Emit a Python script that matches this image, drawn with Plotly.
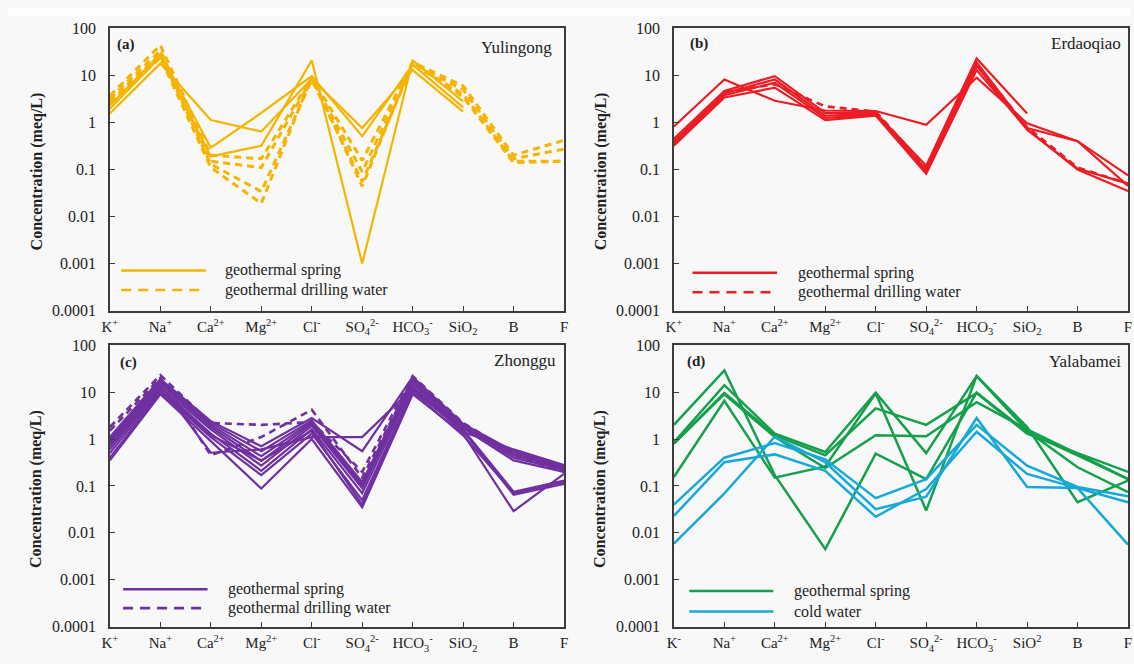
import plotly.graph_objects as go

# Major ions / components on the x axis
ions = ["K+", "Na+", "Ca2+", "Mg2+", "Cl-", "SO42-", "HCO3-", "SiO2", "B", "F"]
ion_labels = ["K<sup>+</sup>", "Na<sup>+</sup>", "Ca<sup>2+</sup>", "Mg<sup>2+</sup>", "Cl<sup>-</sup>",
              "SO<sub>4</sub><sup>2-</sup>", "HCO<sub>3</sub><sup>-</sup>", "SiO<sub>2</sub>", "B", "F"]
ion_labels_d = ["K<sup>-</sup>", "Na<sup>+</sup>", "Ca<sup>2+</sup>", "Mg<sup>2+</sup>", "Cl<sup>-</sup>",
                "SO<sub>4</sub><sup>2-</sup>", "HCO<sub>3</sub><sup>-</sup>", "SiO<sup>2</sup>", "B", "F"]

y_ticks = [0.0001, 0.001, 0.01, 0.1, 1, 10, 100]
y_ticktext = ["0.0001", "0.001", "0.01", "0.1", "1", "10", "100"]

# (a) Yulingong, meq/L
yulingong_spring = [
    [1.55, 18, 1.13, 0.64, 8.5, 0.76, 13, 1.7, None, None],
    [2.3, 29, 0.29, 1.6, 9.7, 0.51, 17, 2.1, None, None],
    [1.95, 25, 0.19, 0.32, 21, 0.001, 21, 2.8, None, None],
]
yulingong_drilling = [
    [3.7, 44, 0.2, 0.17, 9.0, 0.155, 19, 6.0, 0.2, 0.42],
    [3.2, 34, 0.15, 0.11, 8.5, 0.089, 18, 5.0, 0.17, 0.27],
    [2.8, 28, 0.13, 0.034, 8.0, 0.055, 17, 4.0, 0.15, 0.15],
    [2.5, 24, 0.11, 0.019, 9.5, 0.044, 20, 3.5, 0.14, 0.15],
]

# (b) Erdaoqiao
erdaoqiao_spring = [
    [0.82, 8.2, 2.9, 1.8, 1.75, 0.89, 9.0, 0.96, 0.4, 0.075],
    [0.45, 4.7, 9.7, 1.6, 1.6, 0.12, 23, 1.55, None, None],
    [0.40, 4.2, 8.2, 1.4, 1.5, 0.10, 19, 0.76, 0.4, 0.045],
    [0.35, 3.8, 7.0, 1.25, 1.45, 0.09, 16, 0.70, 0.105, 0.05],
    [0.32, 3.4, 5.5, 1.12, 1.4, 0.081, 13, 0.72, 0.10, 0.035],
]
erdaoqiao_drilling = [
    [0.38, 4.5, 6.5, 2.2, 1.7, 0.11, 17, 0.8, 0.11, 0.05],
]

# (c) Zhonggu
zhonggu_spring = [
    [0.35, 9, 0.9, 0.088, 1.0, 0.035, 9, 1.3, 0.029, 0.18],
    [0.4, 10, 1.1, 0.17, 1.3, 0.05, 11, 1.5, 0.065, 0.11],
    [0.6, 12, 1.3, 0.21, 1.6, 0.07, 13, 1.6, 0.075, 0.13],
    [0.7, 13, 1.6, 0.27, 1.9, 0.09, 15, 1.7, 0.35, 0.2],
    [0.8, 15, 1.8, 0.34, 2.1, 0.1, 17, 1.8, 0.4, 0.22],
    [0.9, 16, 2.0, 0.43, 2.3, 0.11, 18, 1.9, 0.45, 0.24],
    [1.0, 18, 2.2, 0.55, 2.5, 0.12, 20, 2.0, 0.5, 0.25],
    [1.1, 19, 2.4, 0.7, 2.8, 0.55, 21, 2.1, 0.55, 0.27],
    [0.8, 14, 0.51, 0.6, 1.1, 1.1, 12, 1.4, 0.6, 0.28],
    [0.5, 11, 1.2, 0.35, 1.5, 0.04, 10, 1.2, 0.07, 0.12],
]
zhonggu_drilling = [
    [1.8, 23, 2.2, 2.0, 2.3, 0.2, 22, 2.2, 0.5, 0.22],
    [1.5, 20, 0.45, 1.1, 4.2, 0.15, 19, 2.0, 0.45, 0.2],
]

# (d) Yalabamei
yalabamei_spring = [
    [2.0, 29, 0.17, 0.0045, 0.49, 0.14, 9.7, 1.4, 0.45, 0.14],
    [0.85, 14, 1.3, 0.53, 9.7, 0.5, 22, 1.5, 0.25, 0.074],
    [0.8, 9.6, 1.2, 0.45, 4.5, 2.0, 9.5, 1.3, 0.5, 0.2],
    [0.155, 6.5, 0.15, 0.26, 9.4, 0.03, 22, 1.8, 0.045, 0.13],
    [0.8, 9.0, 1.1, 0.24, 1.2, 1.15, 6.1, 1.6, 0.48, 0.14],
]
yalabamei_cold = [
    [0.04, 0.4, 0.82, 0.37, 0.055, 0.14, 2.0, 0.27, 0.095, 0.06],
    [0.023, 0.32, 0.47, 0.21, 0.022, 0.086, 1.43, 0.18, 0.09, 0.045],
    [0.0059, 0.069, 1.12, 0.32, 0.032, 0.059, 2.8, 0.095, 0.09, 0.0056],
]

YELLOW = "#F5B400"
RED = "#EC1C24"
PURPLE = "#7030A0"
GREEN = "#14A04C"
BLUE = "#16A9D8"

SERIF = "Liberation Serif"
TEXT = "#222222"
FRAME = "#3c3c3c"

W, H = 1134, 664
X_LEFT = (103 / W, 562 / W)
X_RIGHT = (673 / W, 1132 / W)
Y_TOP = (1 - 310.5 / H, 1 - 21 / H)
Y_BOT = (1 - 635 / H, 1 - 346 / H)

panels = [
    dict(ax="", xd=X_LEFT, yd=Y_TOP, ticks=ion_labels, tag="(a)", name="Yulingong",
         groups=[(yulingong_spring, YELLOW, "solid", 2.2), (yulingong_drilling, YELLOW, "7px,5px", 3.0)],
         legend=[("geothermal spring", YELLOW, "solid"), ("geothermal drilling water", YELLOW, "10px,7px")],
         leg_x=(0.025, 0.211, 0.25), leg_y=(0.142, 0.073), tag_x=0.011, tag_y=0.943,
         name_x=0.978, name_y=0.934, title_x=29 / W, title_y=1 - 168 / H),
    dict(ax="2", xd=X_RIGHT, yd=Y_TOP, ticks=ion_labels, tag="(b)", name="Erdaoqiao",
         groups=[(erdaoqiao_spring, RED, "solid", 2.2), (erdaoqiao_drilling, RED, "7px,5px", 2.6)],
         legend=[("geothermal spring", RED, "solid"), ("geothermal drilling water", RED, "10px,7px")],
         leg_x=(0.041, 0.227, 0.269), leg_y=(0.134, 0.065), tag_x=0.032, tag_y=0.946,
         name_x=0.99, name_y=0.946, title_x=599 / W, title_y=1 - 168 / H),
    dict(ax="3", xd=X_LEFT, yd=Y_BOT, ticks=ion_labels, tag="(c)", name="Zhonggu",
         groups=[(zhonggu_spring, PURPLE, "solid", 2.2), (zhonggu_drilling, PURPLE, "7px,5px", 2.6)],
         legend=[("geothermal spring", PURPLE, "solid"), ("geothermal drilling water", PURPLE, "10px,7px")],
         leg_x=(0.029, 0.215, 0.255), leg_y=(0.133, 0.066), tag_x=0.017, tag_y=0.94,
         name_x=0.986, name_y=0.945, title_x=29 / W, title_y=1 - 494 / H),
    dict(ax="4", xd=X_RIGHT, yd=Y_BOT, ticks=ion_labels_d, tag="(d)", name="Yalabamei",
         groups=[(yalabamei_spring, GREEN, "solid", 2.5), (yalabamei_cold, BLUE, "solid", 2.5)],
         legend=[("geothermal spring", GREEN, "solid"), ("cold water", BLUE, "solid")],
         leg_x=(0.034, 0.219, 0.259), leg_y=(0.127, 0.054), tag_x=0.024, tag_y=0.941,
         name_x=0.989, name_y=0.941, title_x=599 / W, title_y=1 - 494 / H),
]

fig = go.Figure()
shapes, annotations = [], []
layout = {}

for p in panels:
    xa, ya = "x" + p["ax"], "y" + p["ax"]
    for rows, color, dash, width in p["groups"]:
        for vals in rows:
            fig.add_trace(go.Scatter(
                x=ions, y=vals, mode="lines", xaxis=xa, yaxis=ya, showlegend=False,
                line=dict(color=color, width=width, dash=dash), hoverinfo="skip"))

    layout["xaxis" + p["ax"]] = dict(
        domain=list(p["xd"]), anchor=ya, type="category", categoryarray=ions,
        range=[0, 9], tickvals=ions, ticktext=p["ticks"], ticks="inside", ticklen=5,
        tickcolor=FRAME, showline=True, linecolor=FRAME, linewidth=1.5, mirror=True,
        showgrid=False, zeroline=False, ticklabelstandoff=2,
        tickfont=dict(family=SERIF, size=15, color=TEXT))
    layout["yaxis" + p["ax"]] = dict(
        domain=list(p["yd"]), anchor=xa, type="log", range=[-4, 2],
        tickvals=y_ticks, ticktext=y_ticktext, ticks="inside", ticklen=5,
        tickcolor=FRAME, showline=True, linecolor=FRAME, linewidth=1.5, mirror=True,
        showgrid=False, zeroline=False, ticklabelstandoff=9,
        tickfont=dict(family=SERIF, size=16, color=TEXT))

    xdom, ydom = xa + " domain", ya + " domain"
    x0, x1, xt = p["leg_x"]
    for (label, color, dash), yy in zip(p["legend"], p["leg_y"]):
        shapes.append(dict(type="line", xref=xdom, yref=ydom, x0=x0, x1=x1, y0=yy, y1=yy,
                           line=dict(color=color, width=2.6, dash=dash)))
        annotations.append(dict(text=label, xref=xdom, yref=ydom, x=xt, y=yy,
                                xanchor="left", yanchor="middle", showarrow=False,
                                font=dict(family=SERIF, size=16, color=TEXT)))
    annotations.append(dict(text="<b>" + p["tag"] + "</b>", xref=xdom, yref=ydom,
                            x=p["tag_x"], y=p["tag_y"], xanchor="left", yanchor="middle",
                            showarrow=False, font=dict(family=SERIF, size=15, color=TEXT)))
    annotations.append(dict(text=p["name"], xref=xdom, yref=ydom,
                            x=p["name_x"], y=p["name_y"], xanchor="right", yanchor="middle",
                            showarrow=False, font=dict(family=SERIF, size=17, color=TEXT)))
    annotations.append(dict(text="<b>Concentration (meq/L)</b>", xref="paper", yref="paper",
                            x=p["title_x"], y=p["title_y"], textangle=-90,
                            xanchor="center", yanchor="middle", showarrow=False,
                            font=dict(family=SERIF, size=16, color=TEXT)))

shapes.append(dict(type="rect", xref="paper", yref="paper", x0=0, x1=1, y0=1 - 8 / H, y1=1,
                   fillcolor="white", line=dict(width=0), layer="below"))

fig.update_layout(
    width=W, height=H, margin=dict(l=0, r=0, t=0, b=0),
    paper_bgcolor="#f8f8f8", plot_bgcolor="#f8f8f8",
    shapes=shapes, annotations=annotations, **layout)

fig.write_html("out.html")
